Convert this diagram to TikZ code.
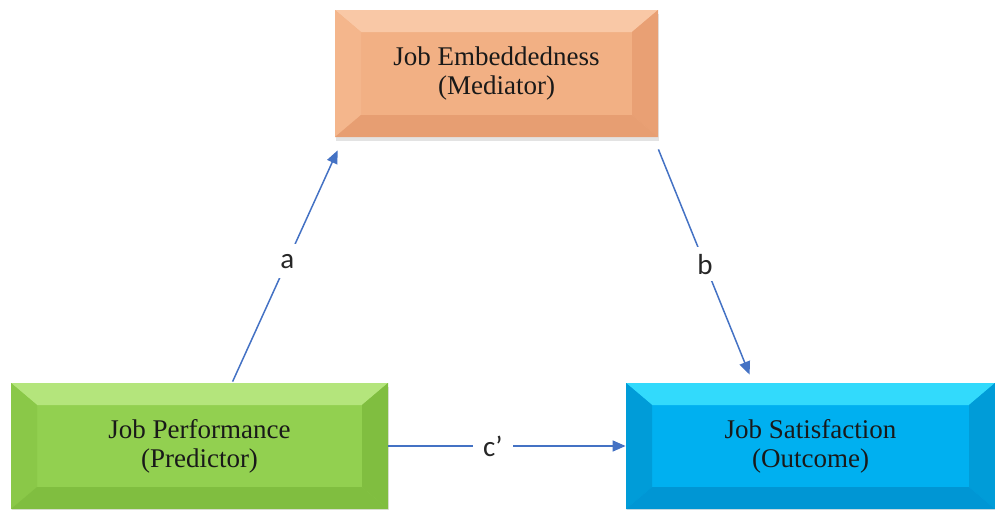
\documentclass[tikz,border=0pt]{standalone}
\usepackage{fontspec}
\setmainfont{Liberation Serif}
\newfontfamily\labelfont{Carlito}
\usetikzlibrary{arrows.meta,calc,shadows}

% box faces: centre, top, left, right, bottom
\definecolor{med}{RGB}{242,176,132}
\definecolor{medtop}{RGB}{249,200,166}
\definecolor{medleft}{RGB}{244,182,140}
\definecolor{medright}{RGB}{233,160,116}
\definecolor{medbot}{RGB}{231,158,114}

\definecolor{pred}{RGB}{146,208,80}
\definecolor{predtop}{RGB}{180,229,124}
\definecolor{predleft}{RGB}{138,200,72}
\definecolor{predright}{RGB}{128,190,64}
\definecolor{predbot}{RGB}{128,190,64}

\definecolor{outc}{RGB}{0,176,240}
\definecolor{outctop}{RGB}{50,218,252}
\definecolor{outcleft}{RGB}{0,156,216}
\definecolor{outcright}{RGB}{0,156,216}
\definecolor{outcbot}{RGB}{0,150,212}

\definecolor{pathblue}{RGB}{68,114,196}

\tikzset{
  bevelbox/.style={rectangle, fill=#1, inner sep=0pt, align=center, text=black!90,
    font=\fontsize{13.5}{14.5}\selectfont,
    drop shadow={shadow xshift=0.6pt, shadow yshift=-2pt, opacity=0.22},
    path picture={
      \coordinate (ppNW) at (path picture bounding box.north west);
      \coordinate (ppNE) at (path picture bounding box.north east);
      \coordinate (ppSW) at (path picture bounding box.south west);
      \coordinate (ppSE) at (path picture bounding box.south east);
      \coordinate (inNW) at ([xshift=13pt,yshift=-11pt]ppNW);
      \coordinate (inNE) at ([xshift=-13pt,yshift=-11pt]ppNE);
      \coordinate (inSW) at ([xshift=13pt,yshift=11pt]ppSW);
      \coordinate (inSE) at ([xshift=-13pt,yshift=11pt]ppSE);
      \fill[#1top] (ppNW) -- (ppNE) -- (inNE) -- (inNW) -- cycle;
      \fill[#1left] (ppNW) -- (inNW) -- (inSW) -- (ppSW) -- cycle;
      \fill[#1right] (ppNE) -- (ppSE) -- (inSE) -- (inNE) -- cycle;
      \fill[#1bot] (ppSW) -- (inSW) -- (inSE) -- (ppSE) -- cycle;
    }},
  pathline/.style={draw=pathblue, line width=0.75pt,
    -{Triangle[length=6.5pt,width=5.5pt]}},
  pathlabel/.style={fill=white, inner sep=0pt, minimum width=20pt,
    minimum height=17pt, font=\labelfont\fontsize{14.5}{16}\selectfont, text=black!85},
}

\begin{document}
\begin{tikzpicture}[x=0.5pt,y=-0.5pt]
  \useasboundingbox (0,0) rectangle (995,509);

  \node[bevelbox=med, minimum width=161.5pt, minimum height=63.5pt]
    (medi) at (496.5,73.5) {Job Embeddedness\\(Mediator)};
  \node[bevelbox=pred, minimum width=188.5pt, minimum height=63pt]
    (predi) at (199.5,446) {Job Performance\\(Predictor)};
  \node[bevelbox=outc, minimum width=184.5pt, minimum height=63pt]
    (outco) at (810.5,446) {Job Satisfaction\\(Outcome)};

  % paths a, b and c'
  \draw[pathline] ($(predi.north west)+(222,-1)$) -- ($(medi.south west)+(3,13)$)
    node[pathlabel, pos=0.52] (la) {a};
  \draw[pathline] ($(medi.south east)+(0,12)$) -- ($(outco.north west)+(124,-8)$)
    node[pathlabel, pos=0.51] (lb) {b};
  \draw[pathline] (predi.east) -- (outco.west)
    node[pathlabel, pos=0.44] (lc) {c’};
\end{tikzpicture}
\end{document}
